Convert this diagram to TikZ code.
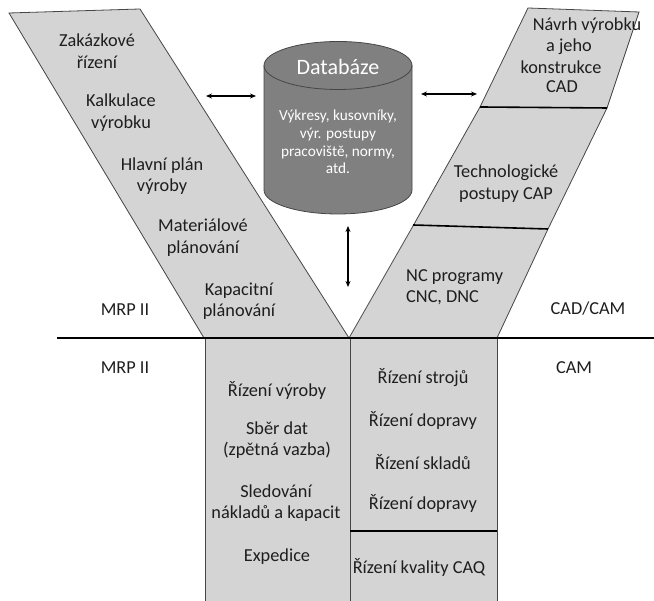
\documentclass[tikz,border=0pt]{standalone}
\usepackage{fontspec}
\setmainfont{Carlito}
\usetikzlibrary{arrows.meta}
\definecolor{panel}{RGB}{212,212,212}
\definecolor{edge}{RGB}{70,70,70}
\definecolor{dbfill}{RGB}{128,128,128}
\definecolor{ink}{RGB}{30,30,30}
\tikzset{
  panelshape/.style={fill=panel, draw=edge, line width=0.8pt},
  divider/.style={draw=black, line width=1.6pt},
  lbl/.style={font=\fontsize{18.3}{21.5}\selectfont, text=ink, align=center, inner sep=0pt},
  dbtext/.style={font=\fontsize{15.3}{17.8}\selectfont, text=white, align=center, inner sep=0pt},
  dbtitle/.style={font=\fontsize{22}{25}\selectfont, text=white, inner sep=0pt},
  link/.style={line width=1.4pt, {Stealth[length=6pt,width=5pt]}-{Stealth[length=6pt,width=5pt]}}
}
\begin{document}
\begin{tikzpicture}[x=1pt,y=1pt]
\useasboundingbox (0,0) rectangle (654,601);

% left funnel arm (MRP II)
\path[panelshape] (9,588) -- (140,592) -- (349,263) -- (204,263) -- cycle;
% right funnel arm (CAD/CAM), three stacked bands
\path[panelshape] (528,593) -- (639,589) -- (607,493) -- (548,372) -- (497,263)
      -- (349,263) -- (413,375) -- (480,494) -- cycle;
\draw[divider] (480,494) -- (607,493);
\draw[divider] (413,376) -- (548,372);

% lower columns
\path[panelshape] (205,263) rectangle (350,-2);
\path[panelshape] (350,263) rectangle (497,-2);
\draw[divider] (350,70) -- (497,70);

% separating line
\draw[black, line width=1.3pt] (57,263) -- (654,263);

% database cylinder
\fill[dbfill] (264,535.5) -- (264,411) arc[start angle=180, end angle=360, x radius=74pt, y radius=24pt]
      -- (412,535.5) arc[start angle=0, end angle=180, x radius=74pt, y radius=24pt] -- cycle;
\draw[edge, line width=0.8pt] (264,535.5) -- (264,411) arc[start angle=180, end angle=360, x radius=74pt, y radius=24pt]
      -- (412,535.5);
\draw[edge, line width=0.8pt] (338,535.5) ellipse[x radius=74pt, y radius=24pt];

\node[dbtitle] (dbname) at (338,534) {Databáze};
\node[dbtext] (dbcontent) at (338,459) {Výkresy, kusovníky,\\výr. postupy\\pracoviště, normy,\\atd.};

% arrows to and from the database
\coordinate (al1) at (206,505);
\coordinate (al2) at (256,505);
\coordinate (ar1) at (421,507);
\coordinate (ar2) at (477,507);
\coordinate (av1) at (348,375);
\coordinate (av2) at (348,314);
\draw[link] (al1) -- (al2);
\draw[link] (ar1) -- (ar2);
\draw[link] (av1) -- (av2);

% MRP II labels
\node[lbl] (zak) at (97,550) {Zakázkové\\řízení};
\node[lbl] (kalk) at (121,488.5) {Kalkulace\\výrobku};
\node[lbl] (hpv) at (162,425) {Hlavní plán\\výroby};
\node[lbl] (mat) at (203,363.5) {Materiálové\\plánování};
\node[lbl] (kap) at (239,300) {Kapacitní\\plánování};

\node[lbl] (mrpA) at (125,291) {MRP II};
\node[lbl] (mrpB) at (125,233) {MRP II};
\node[lbl] (cadcam) at (588,292) {CAD/CAM};
\node[lbl] (cam) at (574,233) {CAM};

% CAD/CAM labels
\node[lbl] (cad1) at (587,575) {Návrh výrobku};
\node[lbl] (cad2) at (569,554) {a jeho};
\node[lbl] (cad3) at (561,534) {konstrukce};
\node[lbl] (cad4) at (562,514) {CAD};
\node[lbl] (cap) at (506,417.5) {Technologické\\postupy CAP};
\node[lbl, align=left, anchor=west] (nc) at (406,314) {NC programy\\CNC, DNC};

% lower left column
\node[lbl] (rv) at (277,211) {Řízení výroby};
\node[lbl] (sber) at (277,161) {Sběr dat\\(zpětná vazba)};
\node[lbl] (sled) at (276,98) {Sledování\\nákladů a kapacit};
\node[lbl] (exp) at (277,44) {Expedice};

% lower right column
\node[lbl] (rs) at (423,223) {Řízení strojů};
\node[lbl] (rd1) at (423,181) {Řízení dopravy};
\node[lbl] (rsk) at (423,139) {Řízení skladů};
\node[lbl] (rd2) at (423,98) {Řízení dopravy};
\node[lbl] (caq) at (419,34) {Řízení kvality CAQ};
\end{tikzpicture}
\end{document}
